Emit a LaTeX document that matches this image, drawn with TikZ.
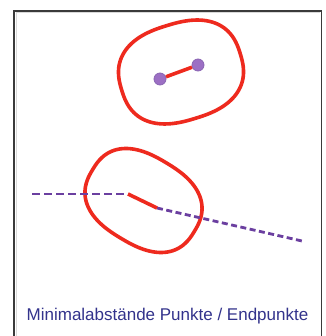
\documentclass[tikz,border=0pt]{standalone}
\usepackage{fontspec}
\setmainfont{Liberation Sans}
\definecolor{redline}{HTML}{EE2A1E}
\definecolor{purpline}{HTML}{6B3FA0}
\definecolor{purpfill}{HTML}{9C6FC4}
\definecolor{textblue}{HTML}{33338C}
\definecolor{framegray}{HTML}{3A3A3A}
\tikzset{
  buffer/.style={draw=redline, line width=3.6pt},
  minseg/.style={draw=redline, line width=3.6pt},
  dashline/.style={draw=purpline, line width=2.8pt, dash pattern=on 8pt off 4pt},
  dashline2/.style={draw=purpline, line width=2.8pt, dash pattern=on 6pt off 3.5pt},
  pt/.style={circle, fill=purpfill, draw=purpline!80, line width=0.8pt, minimum size=12pt, inner sep=0pt},
  caption/.style={text=textblue, font=\fontsize{17}{20}\selectfont, anchor=base}
}
\begin{document}
\begin{tikzpicture}[x=1pt,y=-1pt]
\useasboundingbox (0,0) rectangle (325,336);
\fill[white] (0,0) rectangle (325,336);
% frame
\draw[gray!30, line width=1pt] (16,340) -- (16,13) -- (320,13);
\draw[framegray, line width=1.6pt] (14,345) -- (14,11) -- (321.5,11) -- (321.5,345);
% top buffer
\begin{scope}[shift={(181,72)}, rotate=17]
\draw[buffer] plot[domain=1:358, samples=120, smooth cycle]
  ({62*sign(cos(\x))*abs(cos(\x))^0.8}, {48.5*sign(sin(\x))*abs(sin(\x))^0.8});
\end{scope}
% points
\node[pt] (p1) at (160,79) {};
\node[pt] (p2) at (198,65) {};
\draw[minseg] (p1) -- (p2);
% bottom buffer
\begin{scope}[shift={(143.5,200.5)}, rotate=-31]
\draw[buffer] plot[domain=1:358, samples=120, smooth cycle]
  ({59.5*sign(cos(\x))*abs(cos(\x))^0.8}, {44*sign(sin(\x))*abs(sin(\x))^0.8});
\end{scope}
% lines
\coordinate (l0) at (32,194);
\coordinate (a) at (128,194);
\coordinate (b) at (157,208);
\coordinate (l1) at (302,241);
\draw[dashline] (l0) -- (a);
\draw[dashline2] (b) -- (l1);
\draw[minseg] (a) -- (b);
% caption
\node[caption] (cap) at (167.5,320) {Minimalabstände Punkte / Endpunkte};
\end{tikzpicture}
\end{document}
